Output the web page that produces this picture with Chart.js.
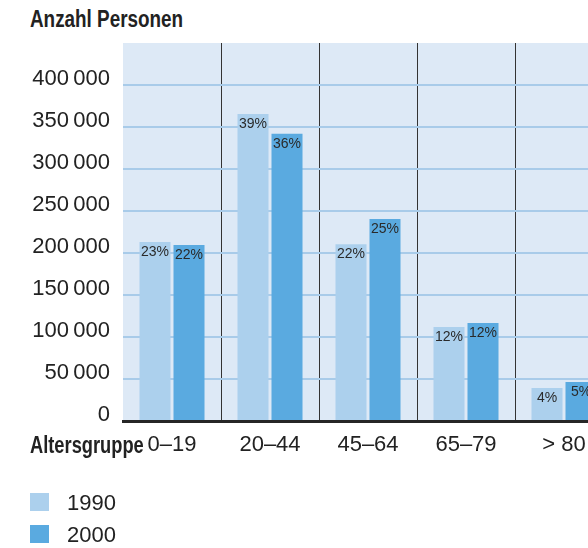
<!DOCTYPE html>
<html>
<head>
<meta charset="utf-8">
<script src="https://cdn.jsdelivr.net/npm/chart.js@4/dist/chart.umd.min.js"></script>
<style>
  html, body { margin: 0; padding: 0; background: #fff; overflow: hidden; width: 588px; height: 548px; }
  body { position: relative; font-family: "Liberation Sans", Arial, sans-serif; color: #222; }
  #wrap { position: absolute; left: 0; top: 0; width: 613px; height: 470px; }
  .cond { transform: scaleX(0.82); transform-origin: 0 50%; }
  #title { position: absolute; left: 30px; top: 8px; font-size: 23px; line-height: 23px; font-weight: bold; white-space: nowrap; }
  #xname { position: absolute; left: 30px; top: 434px; font-size: 23px; line-height: 23px; font-weight: bold; white-space: nowrap; transform: scaleX(0.795); }
  .leg { position: absolute; left: 30px; height: 22px; font-size: 22px; line-height: 22px; white-space: nowrap; }
  .leg .sw { position: absolute; left: 0; top: 1px; width: 19px; height: 18px; }
  .leg .tx { position: absolute; left: 37px; top: 0; }
</style>
</head>
<body>
<div id="title" class="cond">Anzahl Personen</div>
<div id="wrap"><canvas id="c" width="613" height="470"></canvas></div>
<div id="xname" class="cond">Altersgruppe</div>
<div id="legend"></div>
<script>
const categories = ["0\u201319", "20\u201344", "45\u201364", "65\u201379", "> 80"];
const seriesNames = ["1990", "2000"];
const values1990 = [213000, 365500, 210500, 112000, 39300];
const values2000 = [209500, 342000, 240500, 116700, 46400];
const pct1990 = ["23%", "39%", "22%", "12%", "4%"];
const pct2000 = ["22%", "36%", "25%", "12%", "5%"];
const yTicks = [0, 50000, 100000, 150000, 200000, 250000, 300000, 350000, 400000];
const yMax = 450000;
const colors = ["#acd0ed", "#5aaae0"];

const pctLabels = [pct1990, pct2000];

function fmt(v) {
  return String(v).replace(/\B(?=(\d{3})+(?!\d))/g, "\u2009");
}

const bgPlugin = {
  id: "bg",
  beforeDraw(chart) {
    const a = chart.chartArea, ctx = chart.ctx;
    ctx.save();
    ctx.fillStyle = "#dde9f6";
    ctx.fillRect(a.left, a.top, a.right - a.left, a.bottom - a.top);
    ctx.restore();
  }
};

const pctPlugin = {
  id: "pct",
  afterDatasetsDraw(chart) {
    const ctx = chart.ctx;
    ctx.save();
    ctx.font = "14px 'Liberation Sans', Arial, sans-serif";
    ctx.fillStyle = "#2a2a2a";
    ctx.textAlign = "center";
    ctx.textBaseline = "middle";
    chart.data.datasets.forEach((ds, i) => {
      chart.getDatasetMeta(i).data.forEach((bar, j) => {
        ctx.fillText(pctLabels[i][j], bar.x, bar.y + 10);
      });
    });
    ctx.restore();
  }
};

new Chart(document.getElementById("c"), {
  type: "bar",
  data: {
    labels: categories,
    datasets: [
      { label: seriesNames[0], data: values1990, backgroundColor: colors[0], borderWidth: 0,
        categoryPercentage: 0.694, barPercentage: 0.912 },
      { label: seriesNames[1], data: values2000, backgroundColor: colors[1], borderWidth: 0,
        categoryPercentage: 0.694, barPercentage: 0.912 }
    ]
  },
  options: {
    responsive: false,
    animation: false,
    devicePixelRatio: 1,
    layout: { padding: { top: 43, left: 0, right: 0, bottom: 0 } },
    plugins: { legend: { display: false }, tooltip: { enabled: false }, title: { display: false } },
    scales: {
      x: {
        offset: true,
        afterFit(scale) { scale.height = 49; },
        grid: {
          offset: true,
          drawTicks: false,
          lineWidth: 1,
          color: (ctx) => ctx.index === 0 ? "rgba(0,0,0,0)" : "#333333"
        },
        border: { display: true, color: "#262626", width: 3 },
        ticks: {
          padding: 11,
          color: "#222",
          font: { family: "'Liberation Sans', Arial, sans-serif", size: 22 }
        }
      },
      y: {
        min: 0,
        max: yMax,
        afterFit(scale) { scale.width = 123; },
        afterBuildTicks(scale) {
          scale.ticks = yTicks.concat([yMax]).map(v => ({ value: v }));
        },
        grid: {
          drawTicks: false,
          lineWidth: 2,
          color: (ctx) => (ctx.tick && (ctx.tick.value === yMax || ctx.tick.value === 0)) ? "rgba(0,0,0,0)" : "#a8cbe9"
        },
        border: { display: false },
        ticks: {
          padding: 13,
          labelOffset: -6,
          color: "#222",
          font: { family: "'Liberation Sans', Arial, sans-serif", size: 22 },
          callback: (v) => v === yMax ? "" : fmt(v)
        }
      }
    }
  },
  plugins: [bgPlugin, pctPlugin]
});

// HTML legend built from series names/colors
const legTops = [492, 524];
const legend = document.getElementById("legend");
seriesNames.forEach((name, i) => {
  const d = document.createElement("div");
  d.className = "leg";
  d.style.top = legTops[i] + "px";
  d.innerHTML = '<span class="sw" style="background:' + colors[i] + '"></span><span class="tx">' + name + '</span>';
  legend.appendChild(d);
});
</script>
</body>
</html>
